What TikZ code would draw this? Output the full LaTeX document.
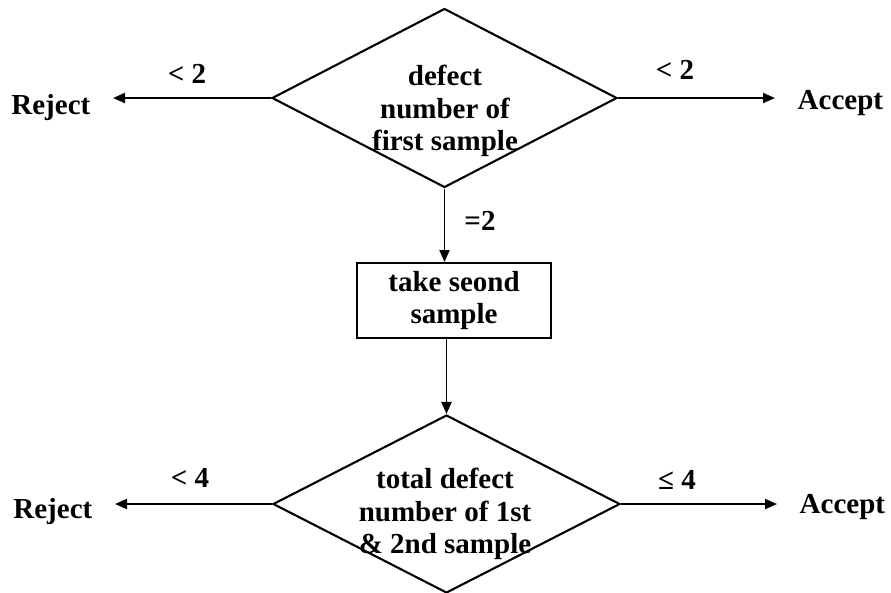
\documentclass[tikz,border=0pt]{standalone}
\usepackage{fontspec}
\setmainfont{Liberation Serif}
\usetikzlibrary{shapes.geometric,arrows.meta}
\begin{document}
\begin{tikzpicture}[x=1pt,y=-1pt,
  every node/.style={font=\fontsize{29}{32.5}\selectfont\bfseries},
  decision/.style={draw, diamond, line width=2.1pt, minimum width=345pt,
    minimum height=179pt, inner sep=0pt},
  process/.style={draw, rectangle, line width=1.9pt, minimum width=194pt,
    minimum height=75pt, align=center, inner sep=0pt},
  caption/.style={align=center, inner sep=0pt},
  terminal/.style={inner xsep=22.5pt, inner ysep=0pt},
  guard/.style={anchor=base, inner sep=0pt},
  flow/.style={line width=1.9pt, -{Triangle[length=12pt,width=10pt]}}]
  \useasboundingbox (0,0) rectangle (891,592);

  % decisions and the process step
  \node[decision] (q1) at (444.5,98) {};
  \node[caption] (q1t) at (445,111) {defect\\number of\\first sample};
  \node[process] (s2) at (454,300.5) {take seond\\sample};
  \node[decision, minimum width=347pt, minimum height=178pt] (q2) at (446.5,504) {};
  \node[caption] (q2t) at (445,514) {total defect\\number of 1st\\\& 2nd sample};

  % outcomes
  \node[terminal, anchor=base east] (r1) at (113,114) {Reject};
  \node[terminal, anchor=base west] (a1) at (775,109) {Accept};
  \node[terminal, anchor=base east] (r2) at (115,518) {Reject};
  \node[terminal, anchor=base west] (a2) at (777,513) {Accept};

  % connectors
  \draw[flow] (q1.west) -- (q1.west -| r1.east);
  \draw[flow] (q1.east) -- (q1.east -| a1.west);
  \draw[flow] (q1.south) -- (q1.south |- s2.north);
  \draw[flow] (s2.south -| q2.north) -- (q2.north);
  \draw[flow] (q2.west) -- (q2.west -| r2.east);
  \draw[flow] (q2.east) -- (q2.east -| a2.west);

  % branch conditions
  \node[guard] (g1) at (187,83) {< 2};
  \node[guard] (g2) at (675,79) {< 2};
  \node[guard] (g3) at (480,230) {=2};
  \node[guard] (g4) at (190,487) {< 4};
  \node[guard] (g5) at (677,489) {≤ 4};
\end{tikzpicture}
\end{document}
